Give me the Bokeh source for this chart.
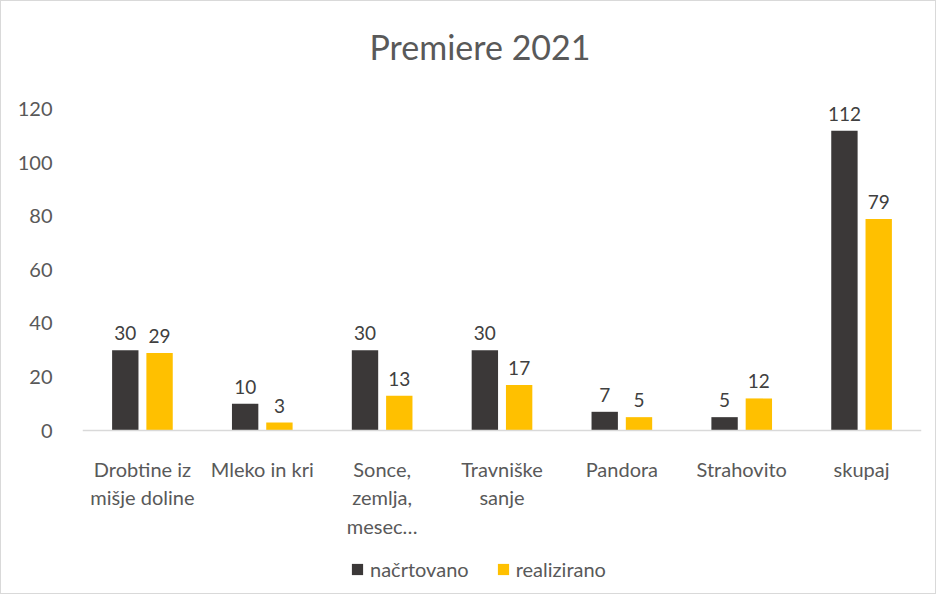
from bokeh.plotting import figure
from bokeh.models import FactorRange, Range1d, ColumnDataSource, Legend, LegendItem, FixedTicker, Title, Span
from bokeh.core.properties import value
from bokeh.transform import dodge
from bokeh.embed import file_html
from bokeh.resources import INLINE

categories = ["Drobtine iz mišje doline", "Mleko in kri", "Sonce, zemlja, mesec…",
              "Travniške sanje", "Pandora", "Strahovito", "skupaj"]
tick_labels = ["Drobtine iz\nmišje doline", "Mleko in kri", "Sonce,\nzemlja,\nmesec…",
               "Travniške\nsanje", "Pandora", "Strahovito", "skupaj"]
planned = [30, 10, 30, 30, 7, 5, 112]
realized = [29, 3, 13, 17, 5, 12, 79]
series_names = ["načrtovano", "realizirano"]
y_ticks = [0, 20, 40, 60, 80, 100, 120]
title_text = "Premiere 2021"

FONT = "Lato"
TXT = "#595959"
LBL = "#404040"
DARK = "#3b3838"
YELLOW = "#ffc000"

src = ColumnDataSource(dict(cat=categories, planned=planned, realized=realized,
                            planned_txt=[str(v) for v in planned],
                            realized_txt=[str(v) for v in realized]))

# frame reaches below the category labels and above the top value label,
# so every text is drawn inside it
p = figure(width=936, height=594, x_range=FactorRange(factors=categories, range_padding=0),
           y_range=Range1d(-57.9, 127.8), output_backend="svg", toolbar_location=None,
           min_border_left=81, min_border_right=16, min_border_top=84, min_border_bottom=10)
p.title = Title(text=title_text, text_font=FONT, text_font_size="34px", text_color=TXT,
                text_font_style="normal", align="left", standoff=44, offset=287)

r1 = p.vbar(x=dodge("cat", -0.143, range=p.x_range), top="planned", width=0.22, source=src,
            fill_color=DARK, line_color=None)
r2 = p.vbar(x=dodge("cat", 0.143, range=p.x_range), top="realized", width=0.22, source=src,
            fill_color=YELLOW, line_color=None)

p.add_layout(Span(location=0, dimension="width", line_color="#d9d9d9", line_width=1.5))

for field, txt, off in (("planned", "planned_txt", -0.143), ("realized", "realized_txt", 0.143)):
    p.text(x=dodge("cat", off, range=p.x_range), y=field, text=txt, source=src,
           text_align="center", text_baseline="alphabetic", y_offset=-17,
           text_font=value(FONT), text_font_size="19px", text_color=LBL)

# category labels, one text glyph per label line
split = [lab.split("\n") for lab in tick_labels]
for i in range(max(len(s) for s in split)):
    cats = [c for c, s in zip(categories, split) if len(s) > i]
    texts = [s[i] for s in split if len(s) > i]
    lsrc = ColumnDataSource(dict(x=cats, y=[0] * len(cats), text=texts))
    p.text(x="x", y="y", text="text", source=lsrc, y_offset=38 + 28.5 * i,
           text_align="center", text_baseline="alphabetic",
           text_font=value(FONT), text_font_size="20px", text_color=TXT)

p.grid.visible = False
p.outline_line_color = None
p.xaxis.visible = False

p.yaxis.ticker = FixedTicker(ticks=y_ticks)
p.yaxis.axis_line_color = None
p.yaxis.major_tick_line_color = None
p.yaxis.minor_tick_line_color = None
p.yaxis.major_label_standoff = 24
p.yaxis.major_label_text_font = FONT
p.yaxis.major_label_text_font_size = "20px"
p.yaxis.major_label_text_color = TXT

legend = Legend(items=[LegendItem(label=series_names[0], renderers=[r1]),
                       LegendItem(label=series_names[1], renderers=[r2])],
                orientation="horizontal", location=(268, 4),
                glyph_width=14, glyph_height=14, spacing=27, label_standoff=6,
                label_text_font=FONT, label_text_font_size="20px", label_text_color=TXT,
                border_line_color=None, background_fill_alpha=0, padding=0, margin=0)
p.add_layout(legend, "center")

p.styles = {"border": "1px solid #d9d9d9", "box-sizing": "border-box"}

open("out.html", "w").write(file_html(p, INLINE))
